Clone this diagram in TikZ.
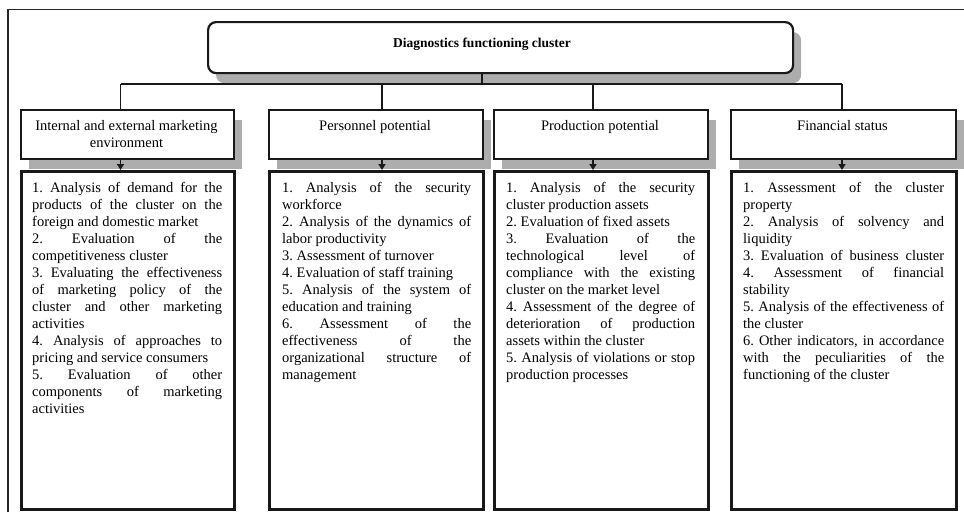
\documentclass[tikz,border=0pt]{standalone}
\usepackage{fontspec}
\setmainfont{Liberation Serif}
\usetikzlibrary{arrows.meta,shadows}

% one justified line, and a closing (ragged) line of a paragraph
\newcommand\jl[1]{\hbox to\hsize{\strut#1}}
\newcommand\lastl[1]{\hbox{\strut#1}}
% a column of such lines, given its width
\newcommand\colbox[2]{\vbox{\hsize=#1\relax\frenchspacing#2}}

\begin{document}
\begin{tikzpicture}[x=1pt,y=-1pt,
  txt/.style={font=\fontsize{14.5}{17}\selectfont},
  shade/.style={drop shadow={shadow xshift=8pt,shadow yshift=-10pt,fill=black!32,opacity=1}},
  headbox/.style={draw=black!90,line width=2.2pt,fill=white,inner sep=0pt,anchor=north west,
                  minimum height=49pt,shade},
  listbox/.style={draw=black!90,line width=2.6pt,fill=white,inner sep=0pt,anchor=north west,
                  minimum height=338pt},
  topbox/.style={draw=black!90,line width=2.2pt,fill=white,rounded corners=8pt,inner sep=0pt,
                 anchor=north west,minimum width=585pt,minimum height=51pt,shade},
  body/.style={txt,inner sep=0pt,anchor=north west},
  headtext/.style={txt,inner sep=0pt,anchor=north,align=center},
  link/.style={line width=1.5pt,draw=black!90},
  tip/.style={link,-{Triangle[length=6pt,width=7pt]}}]

\useasboundingbox (0,0) rectangle (964,512);

% page frame
\draw[line width=1.2pt,black!85] (8,512) -- (8,9.5) -- (964,9.5);

% root
\node[topbox] (top) at (207,21) {};
\node[font=\bfseries\fontsize{13.5}{16}\selectfont] (title) at (482,44) {Diagnostics functioning cluster};

% branch headers
\node[headbox,minimum width=213pt] (h1) at (20,108.5) {};
\node[headbox,minimum width=214pt] (h2) at (268,108.5) {};
\node[headbox,minimum width=214pt] (h3) at (493,108.5) {};
\node[headbox,minimum width=225pt] (h4) at (730,108.5) {};

\node[headtext] (ht1) at (126.5,118) {\strut Internal and external marketing\\\strut environment};
\node[headtext] (ht2) at (375,118) {\strut Personnel potential};
\node[headtext] (ht3) at (600,118) {\strut Production potential};
\node[headtext] (ht4) at (842.5,118) {\strut Financial status};

% lists
\node[listbox,minimum width=213pt] (c1) at (20,170) {};
\node[listbox,minimum width=214pt] (c2) at (268,170) {};
\node[listbox,minimum width=214pt] (c3) at (493,170) {};
\node[listbox,minimum width=225pt] (c4) at (730,170) {};

\node[body] (t1) at (32,180) {\colbox{190pt}{%
  \jl{1. Analysis of demand for the}
  \jl{products of the cluster on the}
  \lastl{foreign and domestic market}
  \jl{2. Evaluation of the}
  \lastl{competitiveness cluster}
  \jl{3. Evaluating the effectiveness}
  \jl{of marketing policy of the}
  \jl{cluster and other marketing}
  \lastl{activities}
  \jl{4. Analysis of approaches to}
  \lastl{pricing and service consumers}
  \jl{5. Evaluation of other}
  \jl{components of marketing}
  \lastl{activities}}};

\node[body] (t2) at (282,180) {\colbox{189pt}{%
  \jl{1. Analysis of the security}
  \lastl{workforce}
  \jl{2. Analysis of the dynamics of}
  \lastl{labor productivity}
  \lastl{3. Assessment of turnover}
  \lastl{4. Evaluation of staff training}
  \jl{5. Analysis of the system of}
  \lastl{education and training}
  \jl{6. Assessment of the}
  \jl{effectiveness of the}
  \jl{organizational structure of}
  \lastl{management}}};

\node[body] (t3) at (506,180) {\colbox{189pt}{%
  \jl{1. Analysis of the security}
  \lastl{cluster production assets}
  \lastl{2. Evaluation of fixed assets}
  \jl{3. Evaluation of the}
  \jl{technological level of}
  \jl{compliance with the existing}
  \lastl{cluster on the market level}
  \jl{4. Assessment of the degree of}
  \jl{deterioration of production}
  \lastl{assets within the cluster}
  \jl{5. Analysis of violations or stop}
  \lastl{production processes}}};

\node[body] (t4) at (743,180) {\colbox{201pt}{%
  \jl{1. Assessment of the cluster}
  \lastl{property}
  \jl{2. Analysis of solvency and}
  \lastl{liquidity}
  \jl{3. Evaluation of business cluster}
  \jl{4. Assessment of financial}
  \lastl{stability}
  \jl{5. Analysis of the effectiveness of}
  \lastl{the cluster}
  \jl{6. Other indicators, in accordance}
  \jl{with the peculiarities of the}
  \lastl{functioning of the cluster}}};

% bus and drops
\coordinate (bt) at (482,84);
\coordinate (b1) at (120.5,84);
\coordinate (b2) at (382,84);
\coordinate (b3) at (593,84);
\coordinate (b4) at (842,84);

\draw[link] (top.south -| bt) -- (bt);
\draw[link] (b1) -- (b4);
\foreach \i in {1,2,3,4} {
  \draw[link] (b\i) -- (b\i |- h\i.north);
  \draw[tip] (b\i |- h\i.south) -- (b\i |- c\i.north);
}
\end{tikzpicture}
\end{document}
